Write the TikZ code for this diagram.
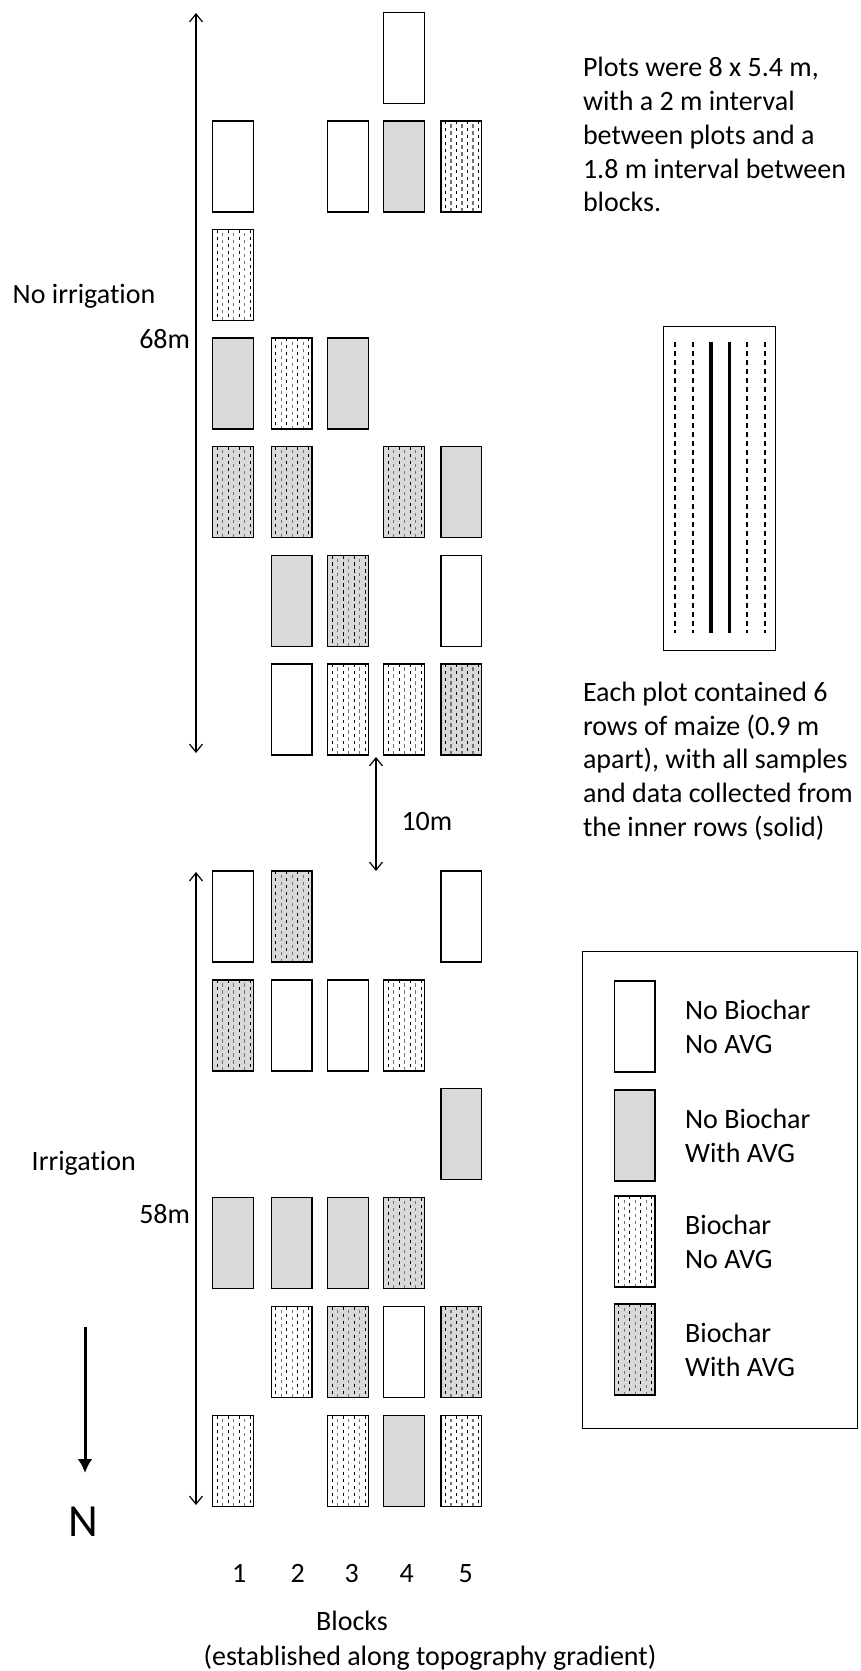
\documentclass[tikz,border=0pt]{standalone}
\usepackage{fontspec}
\setmainfont{Carlito}[Ligatures={TeX,NoCommon}]
\usetikzlibrary{arrows.meta,calc}
\definecolor{plotgray}{HTML}{D9D9D9}
\def\colx#1{\ifcase#1\or212.7\or271.3\or327.7\or383.7\or441\fi}
\tikzset{
  txt/.style={font=\fontsize{28}{33.75}\selectfont, inner sep=0pt, outer sep=0pt},
  plotw/.style={draw=black, line width=1.3pt, fill=white, minimum width=40.8pt, minimum height=91pt, inner sep=0pt, outer sep=0pt, anchor=north west},
  plotg/.style={plotw, fill=plotgray},
  bio/.style={path picture={
    \foreach \i in {0,...,6}{
      \pgfmathsetmacro\px{4.5+5.5*\i}
      \ifodd\i
        \draw[black!55, line width=1.2pt, dash pattern=on 3.2pt off 3.8pt, dash phase=3.5pt]
          ($(path picture bounding box.north west)+(\px,0)$) -- ($(path picture bounding box.south west)+(\px,0)$);
      \else
        \draw[black, line width=1.3pt, dash pattern=on 3.2pt off 3.8pt]
          ($(path picture bounding box.north west)+(\px,0)$) -- ($(path picture bounding box.south west)+(\px,0)$);
      \fi
    }}},
  plots/.style={plotw, bio},
  plotsg/.style={plotg, bio},
  dimarrow/.style={line width=1.2pt, {Straight Barb[length=8pt,width=13pt]}-{Straight Barb[length=8pt,width=13pt]}},
  northarrow/.style={line width=3pt, -{Latex[length=14pt,width=15pt]}},
  rowdash/.style={line width=1.8pt, dash pattern=on 5pt off 4pt},
  rowsolid/.style={line width=3.6pt},
}
\begin{document}
\begin{tikzpicture}[x=1pt,y=-1pt]
\useasboundingbox (0,0) rectangle (860,1671);

% upper (no irrigation) plots
\foreach \c/\r/\t in {4/0/plotw, 1/1/plotw, 3/1/plotw, 4/1/plotg, 5/1/plots,
  1/2/plots, 1/3/plotg, 2/3/plots, 3/3/plotg,
  1/4/plotsg, 2/4/plotsg, 4/4/plotsg, 5/4/plotg,
  2/5/plotg, 3/5/plotsg, 5/5/plotw,
  2/6/plotw, 3/6/plots, 4/6/plots, 5/6/plotsg}{
  \pgfmathsetmacro\ry{12.3+108.6*\r}
  \node[\t] (u-\r-\c) at (\colx{\c},\ry) {};
}

% lower (irrigation) plots
\foreach \c/\r/\t in {1/0/plotw, 2/0/plotsg, 5/0/plotw,
  1/1/plotsg, 2/1/plotw, 3/1/plotw, 4/1/plots,
  5/2/plotg,
  1/3/plotg, 2/3/plotg, 3/3/plotg, 4/3/plotsg,
  2/4/plots, 3/4/plotsg, 4/4/plotw, 5/4/plotsg,
  1/5/plots, 3/5/plots, 4/5/plotg, 5/5/plots}{
  \pgfmathsetmacro\ry{871+108.9*\r}
  \node[\t] (l-\r-\c) at (\colx{\c},\ry) {};
}

% dimension arrows
\coordinate (atop) at (196,13);
\coordinate (abot) at (196,753);
\coordinate (btop) at (196,872);
\coordinate (bbot) at (196,1505);
\coordinate (mtop) at (376,757);
\coordinate (mbot) at (376,871);
\draw[dimarrow] (atop) -- (abot);
\draw[dimarrow] (btop) -- (bbot);
\draw[dimarrow] (mtop) -- (mbot);

% north arrow
\coordinate (ntop) at (85,1327);
\coordinate (nbot) at (85,1473);
\draw[northarrow] (ntop) -- (nbot);
\node[font=\fontsize{46}{50}\selectfont, inner sep=0pt, anchor=base] (nlabel) at (83,1536) {N};

% labels
\node[txt, anchor=base west] (noirr) at (12.7,303.3) {No irrigation};
\node[txt, anchor=base east] (len68) at (190,348.3) {68m};
\node[txt, anchor=base west] (irr) at (31.7,1170) {Irrigation};
\node[txt, anchor=base east] (len58) at (190,1223.3) {58m};
\node[txt, anchor=base west] (len10) at (401.5,830) {10m};

% block numbers
\node[txt, anchor=base] (b1) at (239.3,1582) {1};
\node[txt, anchor=base] (b2) at (297.7,1582) {2};
\node[txt, anchor=base] (b3) at (351.7,1582) {3};
\node[txt, anchor=base] (b4) at (406.7,1582) {4};
\node[txt, anchor=base] (b5) at (465.7,1582) {5};
\node[txt, anchor=base] (blocks) at (352,1630.7) {Blocks};
\node[txt, anchor=base] (gradient) at (430,1665) {(established along topography gradient)};

% descriptive texts
\node[txt, anchor=north west, align=left] (desc1) at (583,57.5)
  {Plots were 8 x 5.4 m,\\with a 2 m interval\\between plots and a\\1.8 m interval between\\blocks.};
\node[txt, anchor=north west, align=left] (desc2) at (583,682)
  {Each plot contained 6\\rows of maize (0.9 m\\apart), with all samples\\and data collected from\\the inner rows (solid)};

% row diagram
\node[draw=black, line width=1.3pt, minimum width=112.3pt, minimum height=324.3pt, inner sep=0pt, anchor=north west] (rowplot) at (662.7,325.7) {};
\foreach \xx/\sty in {675/rowdash, 693.3/rowdash, 711/rowsolid, 729.3/rowsolid, 746.7/rowdash, 765/rowdash}{
  \draw[\sty] (\xx,342.3) -- (\xx,633.3);
}

% legend
\node[draw=black, line width=1.3pt, minimum width=275.3pt, minimum height=477pt, inner sep=0pt, anchor=north west] (legend) at (581.7,951) {};
\node[plotw] (leg1) at (614.3,981) {};
\node[plotg] (leg2) at (614.3,1090) {};
\node[plots] (leg3) at (614.3,1196) {};
\node[plotsg] (leg4) at (614.3,1304) {};
\node[txt, anchor=west, align=left] (legt1) at ($(leg1.east)+(30,0)$) {No Biochar\\No AVG};
\node[txt, anchor=west, align=left] (legt2) at ($(leg2.east)+(30,0)$) {No Biochar\\With AVG};
\node[txt, anchor=west, align=left] (legt3) at ($(leg3.east)+(30,0)$) {Biochar\\No AVG};
\node[txt, anchor=west, align=left] (legt4) at ($(leg4.east)+(30,0)$) {Biochar\\With AVG};
\end{tikzpicture}
\end{document}
